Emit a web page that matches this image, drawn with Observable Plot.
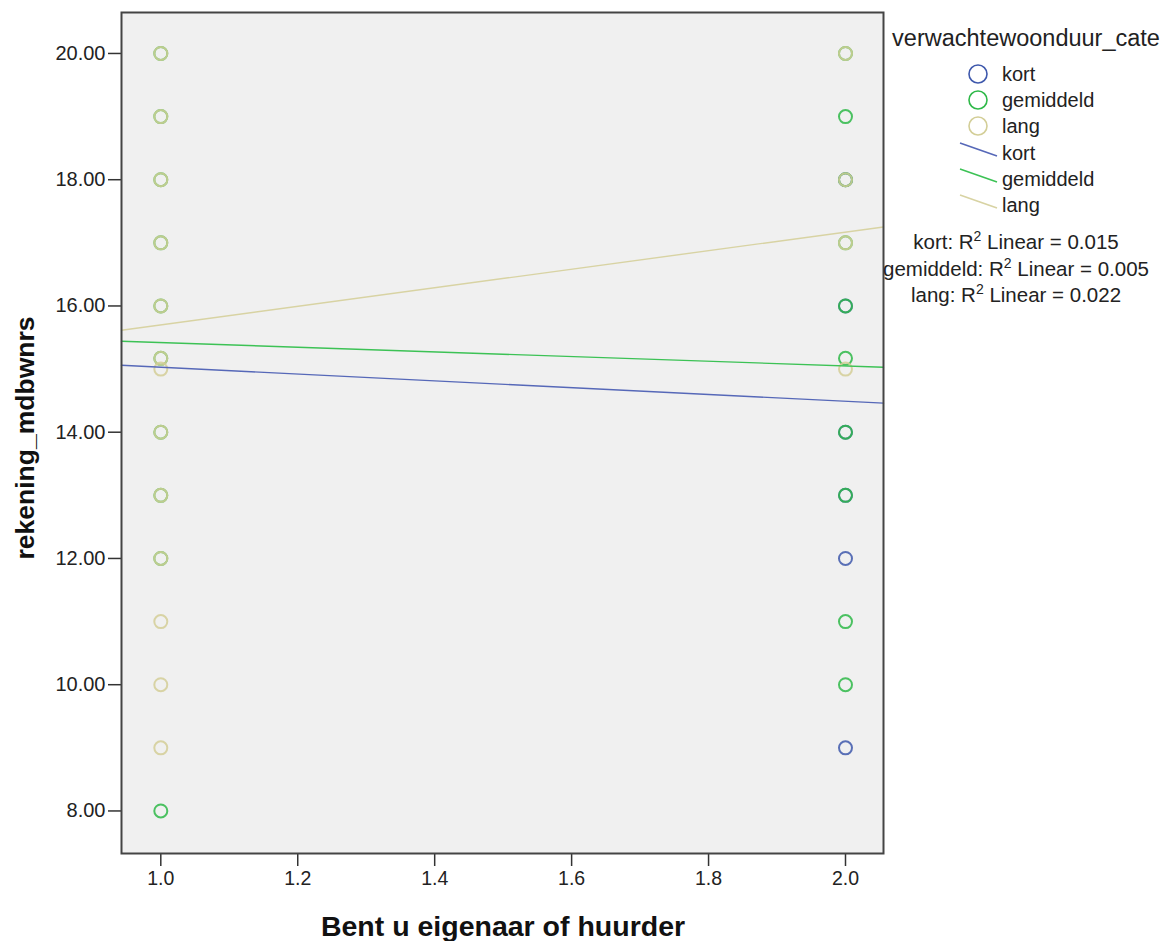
<!DOCTYPE html>
<html>
<head>
<meta charset="utf-8">
<script src="https://cdn.jsdelivr.net/npm/d3@7"></script>
<script src="https://cdn.jsdelivr.net/npm/@observablehq/plot@0.6"></script>
<style>
  html, body { margin: 0; padding: 0; background: #ffffff; }
  #chart svg { display: block; }
</style>
</head>
<body>
<div id="chart"></div>
<script>
// ---- data ----
const categories = ["kort", "gemiddeld", "lang"];
const colors = ["#3e58ac", "#2eb848", "#d3ce97"];
const lineColors = ["#5668b8", "#3cc255", "#d8d3a3"];

// observed values (rekening_mdbwnrs) per group at x = 1 (eigenaar) and x = 2 (huurder)
const kortAt1 = [];
const kortAt2 = [18, 16, 14, 13, 12, 9];
const gemiddeldAt1 = [20, 19, 18, 17, 16, 15.17, 14, 13, 12, 8];
const gemiddeldAt2 = [20, 19, 18, 17, 16, 15.17, 14, 13, 11, 10];
const langAt1 = [20, 19, 18, 17, 16, 15.17, 15, 14, 13, 12, 11, 10, 9];
const langAt2 = [20, 18, 17, 15];

// fitted linear values at x = 1 and x = 2
const fitX = [1, 2];
const kortFit = [15.03, 14.49];
const gemiddeldFit = [15.42, 15.05];
const langFit = [15.70, 17.17];
const r2Labels = ["kort: R", "gemiddeld: R", "lang: R"];
const r2Values = ["0.015", "0.005", "0.022"];

const xTicks = [1.0, 1.2, 1.4, 1.6, 1.8, 2.0];
const yTicks = [8, 10, 12, 14, 16, 18, 20];
const xDomain = [0.9426, 2.0555];
const yDomain = [7.326, 20.649];

// ---- build tables ----
const points = [];
const groups = [[kortAt1, kortAt2], [gemiddeldAt1, gemiddeldAt2], [langAt1, langAt2]];
groups.forEach((g, i) => {
  g[0].forEach(v => points.push({x: 1, y: v, cat: categories[i]}));
  g[1].forEach(v => points.push({x: 2, y: v, cat: categories[i]}));
});
const fits = [kortFit, gemiddeldFit, langFit];
const fitLines = [];
fits.forEach((f, i) => {
  const slope = (f[1] - f[0]) / (fitX[1] - fitX[0]);
  const at = x => f[0] + slope * (x - fitX[0]);
  fitLines.push({x: xDomain[0], y: at(xDomain[0]), cat: categories[i]});
  fitLines.push({x: xDomain[1], y: at(xDomain[1]), cat: categories[i]});
});

const font = "'Liberation Sans', Arial, sans-serif";

const plot = Plot.plot({
  width: 1171,
  height: 941,
  marginLeft: 121,
  marginRight: 288,
  marginTop: 12,
  marginBottom: 88,
  style: {fontFamily: font, background: "#ffffff", color: "#222"},
  x: {domain: xDomain},
  y: {domain: yDomain},
  color: {domain: categories, range: colors},
  marks: [
    Plot.frame({fill: "#f0f0f0", stroke: null}),
    Plot.dot(points, {x: "x", y: "y", stroke: "cat", r: 6.5, strokeWidth: 2, strokeOpacity: 0.85}),
    ...categories.map((c, i) => Plot.line(fitLines.filter(d => d.cat === c), {x: "x", y: "y", stroke: lineColors[i], strokeWidth: 1.4})),
    Plot.axisX({ticks: xTicks, tickFormat: d3.format(".1f"), tickSize: 13, tickPadding: 5, fontSize: 19.5, label: null, stroke: "#333", strokeWidth: 1.5, fill: "#222"}),
    Plot.axisY({ticks: yTicks, tickFormat: d3.format(".2f"), tickSize: 13, tickPadding: 3, fontSize: 20, label: null, stroke: "#333", strokeWidth: 1.5, fill: "#222"}),
    Plot.frame({stroke: "#444", strokeWidth: 2})
  ]
});
document.getElementById("chart").appendChild(plot);

// ---- titles and legend (layout) ----
const svg = d3.select(plot);
svg.append("text")
  .attr("x", 503).attr("y", 936)
  .attr("text-anchor", "middle")
  .attr("font-size", 28.5).attr("font-weight", "bold").attr("font-family", font).attr("fill", "#111")
  .text("Bent u eigenaar of huurder");
svg.append("text")
  .attr("transform", "translate(34,438) rotate(-90)")
  .attr("text-anchor", "middle")
  .attr("font-size", 26.5).attr("font-weight", "bold").attr("font-family", font).attr("fill", "#111")
  .text("rekening_mdbwnrs");

const lg = svg.append("g").attr("font-family", font).attr("fill", "#222");
lg.append("text").attr("x", 1026).attr("y", 46).attr("text-anchor", "middle").attr("font-size", 23.5)
  .text("verwachtewoonduur_cate");
categories.forEach((c, i) => {
  const cy = 74 + i * 26;
  lg.append("circle").attr("cx", 978).attr("cy", cy).attr("r", 9)
    .attr("fill", "none").attr("stroke", colors[i]).attr("stroke-width", 1.6);
  lg.append("text").attr("x", 1002).attr("y", cy + 7).attr("text-anchor", "start").attr("font-size", 20).text(c);
});
categories.forEach((c, i) => {
  const cy = 153 + i * 26;
  lg.append("line").attr("x1", 960).attr("y1", cy - 10).attr("x2", 997).attr("y2", cy + 3)
    .attr("stroke", lineColors[i]).attr("stroke-width", 1.6);
  lg.append("text").attr("x", 1002).attr("y", cy + 7).attr("text-anchor", "start").attr("font-size", 20).text(c);
});
categories.forEach((c, i) => {
  const t = lg.append("text").attr("x", 1016).attr("y", 249 + i * 26.5)
    .attr("text-anchor", "middle").attr("font-size", 20.5);
  t.append("tspan").text(r2Labels[i]);
  t.append("tspan").attr("dy", -8).attr("font-size", 14).text("2");
  t.append("tspan").attr("dy", 8).text(" Linear = " + r2Values[i]);
});
</script>
</body>
</html>
